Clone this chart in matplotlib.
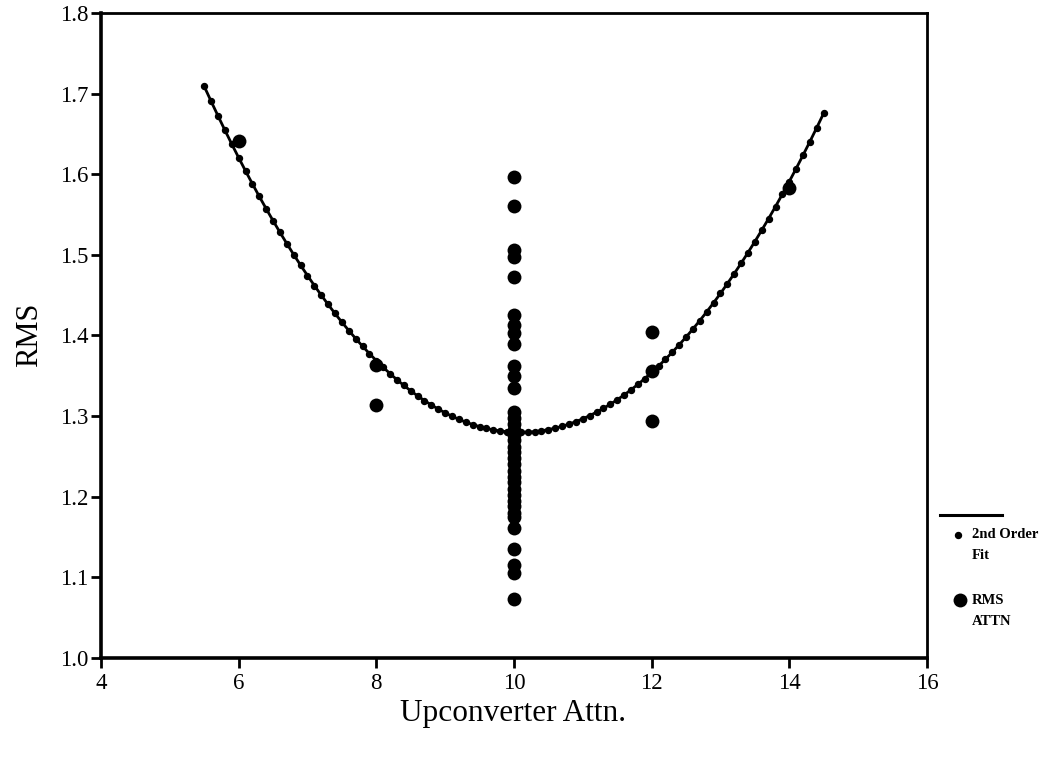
import numpy as np
import matplotlib
matplotlib.use("Agg")
import matplotlib.pyplot as plt
from matplotlib.lines import Line2D

# ---- data ----
side_x = [6, 8, 8, 12, 12, 12, 14]
side_y = [1.641, 1.363, 1.314, 1.404, 1.356, 1.294, 1.583]
center_x = 10
center_y = [1.597, 1.560, 1.506, 1.497, 1.472,
            1.425, 1.413, 1.403, 1.390, 1.362, 1.350, 1.335,
            1.305, 1.298, 1.290, 1.283, 1.277, 1.270, 1.262, 1.255, 1.248,
            1.240, 1.232, 1.225, 1.218, 1.210, 1.202, 1.195, 1.188, 1.180, 1.175,
            1.161, 1.135, 1.115, 1.106, 1.073]
attn_x = side_x + [center_x] * len(center_y)
rms_y = side_y + center_y

# 2nd order fit coefficients (a*x^2 + b*x + c)
fit_coef = [0.02036, -0.4109, 3.353]
fit_range = (5.5, 14.5)
fit_step = 0.1

x_ticks = [4, 6, 8, 10, 12, 14, 16]
y_ticks = [1.0, 1.1, 1.2, 1.3, 1.4, 1.5, 1.6, 1.7, 1.8]

plt.rcParams['font.family'] = ['Liberation Serif', 'DejaVu Serif']

fig = plt.figure(figsize=(10.63, 7.62), dpi=100)
ax = fig.add_axes([0.0950, 0.1365, 0.7770, 0.8465])

fx = np.arange(fit_range[0], fit_range[1] + fit_step / 2, fit_step)
fy = np.polyval(fit_coef, fx)
ax.plot(fx, fy, color='black', lw=2.0, marker='o', ms=4.3, mec='black',
        mfc='black', zorder=2)
ax.scatter(attn_x, rms_y, s=100, color='black', zorder=3, linewidths=0)

ax.set_xlim(4, 16)
ax.set_ylim(1.0, 1.8)
ax.set_xticks(x_ticks)
ax.set_xticklabels([str(v) for v in x_ticks])
ax.set_yticks(y_ticks)
ax.set_yticklabels([f"{v:.1f}" for v in y_ticks])
ax.tick_params(axis='both', direction='out', length=7, width=2,
               labelsize=16.5, top=False, right=False)
ax.tick_params(axis='x', pad=4)
ax.tick_params(axis='y', pad=2)
for s in ax.spines.values():
    s.set_linewidth(2)
ax.spines['left'].set_linewidth(2.6)
ax.spines['bottom'].set_linewidth(2.6)

fig.text(0.483, 0.064, "Upconverter Attn.", ha='center', va='center', fontsize=22.5)
fig.text(0.028, 0.56, "RMS", ha='center', va='center', fontsize=22, rotation=90)

# ---- legend (drawn outside the axes at right) ----
fig.add_artist(Line2D([0.884, 0.943], [0.324, 0.324], color='black', lw=2.2,
                      transform=fig.transFigure))
fig.add_artist(Line2D([0.901], [0.298], marker='o', ms=4.3, color='black',
                      transform=fig.transFigure))
fig.text(0.914, 0.298, "2nd Order", fontsize=10.5, fontweight='bold', va='center')
fig.text(0.914, 0.271, "Fit", fontsize=10.5, fontweight='bold', va='center')
fig.add_artist(Line2D([0.903], [0.212], marker='o', ms=10, color='black',
                      mew=0, transform=fig.transFigure))
fig.text(0.914, 0.212, "RMS", fontsize=10.5, fontweight='bold', va='center')
fig.text(0.914, 0.185, "ATTN", fontsize=10.5, fontweight='bold', va='center')

fig.savefig("out.png", dpi=100)
